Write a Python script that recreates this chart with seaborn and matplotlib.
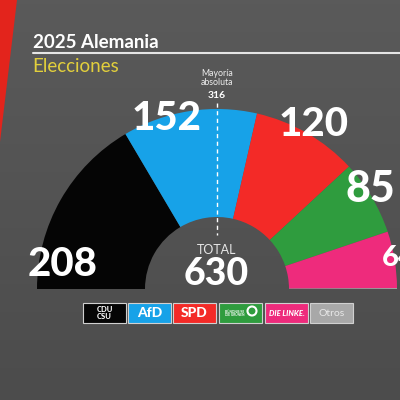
import matplotlib
matplotlib.use("Agg")
import matplotlib.pyplot as plt
import seaborn as sns
import numpy as np
from matplotlib.patches import Rectangle, Circle

# data
parties = ["CDU/CSU", "AfD", "SPD", "Grüne", "Die Linke", "Otros"]
seats = [208, 152, 120, 85, 64, 1]
colors = ["#050505", "#17a2e8", "#f32a27", "#2f9c3e", "#ee2b7c", "#a8a8a8"]
legend_labels = ["CDU\nCSU", "AfD", "SPD", "BÜNDNIS 90\nDIE GRÜNEN", "DIE LINKE.", "Otros"]
total = sum(seats)
majority = 316

sns.set_style("dark")
plt.rcParams['font.family'] = ['Lato', 'DejaVu Sans']

fig = plt.figure(figsize=(4, 4), dpi=100)
ax = fig.add_axes([0, 0, 1, 1])

# half donut, bottom half hidden
wedges, _ = ax.pie(seats + [total], radius=180, center=(217, 111), startangle=180,
                   counterclock=False, colors=colors + ["none"],
                   wedgeprops=dict(width=108, linewidth=0))
wedges[-1].set_visible(False)
for w in wedges:
    w.set_zorder(2)

ax.set_xlim(0, 400)
ax.set_ylim(0, 400)
ax.set_aspect('auto')
ax.axis('off')

# background
grad = np.linspace(0, 1, 100).reshape(-1, 1)
ax.imshow(grad, extent=(0, 400, 0, 400), cmap=sns.blend_palette(["#4c4c4c", "#5a5a5a"], as_cmap=True),
          aspect='auto', zorder=0, origin='lower')
ax.fill([0, 17, 0], [400, 400, 258], color="#e3241c", zorder=1, lw=0)

# header
ax.text(33, 358, "2025 Alemania", color="white", fontsize=13.5, fontweight="bold", va="center", ha="left", zorder=3)
ax.plot([33, 400], [347, 347], color="#e6e6e6", lw=1.5, zorder=3)
ax.text(32, 333, "Elecciones", color="#e2cf3c", fontsize=13.5, va="center", ha="left", zorder=3)

# seat labels
label_pos = [(63, 135), (167, 281), (314, 275), (370, 211), (382, 142)]
label_size = [29, 29, 29, 31, 21]
for val, (x, y), fs in zip(seats[:5], label_pos, label_size):
    ha = "left" if val == 64 else "center"
    ax.text(x, y, str(val), color="white", fontsize=fs, fontweight="black", ha=ha, va="center", zorder=4)

# majority marker
ax.plot([217, 217], [297, 165], color="white", lw=1, ls=(0, (3, 2.5)), zorder=3)
ax.text(217, 322, "Mayoría\nabsoluta", color="#eeeeee", fontsize=6.3, ha="center", va="center",
        linespacing=0.95, zorder=3)
ax.text(217, 304, str(majority), color="white", fontsize=7.5, fontweight="bold", ha="center", va="center", zorder=3)

# total
ax.text(217, 150, "TOTAL", color="#e6e6e6", fontsize=9, fontweight="normal", ha="center", va="center", zorder=3)
ax.text(216, 126, str(total), color="white", fontsize=27, fontweight="black", ha="center", va="center", zorder=3)

# legend boxes
box_x = [83, 128, 173, 219, 265, 310]
for i, (bx, lab, c) in enumerate(zip(box_x, legend_labels, colors)):
    ax.add_patch(Rectangle((bx, 77), 43, 20, facecolor=c, edgecolor="#d0d0d0", lw=0.8, zorder=3))
    if i == 0:
        ax.text(bx + 21.5, 87, lab, color="white", fontsize=5.5, fontweight="black", ha="center",
                va="center", linespacing=1.05, zorder=4)
    elif i == 3:
        ax.text(bx + 16, 86.5, lab, color="white", fontsize=2.3, fontweight="bold", ha="center",
                va="center", linespacing=0.9, zorder=4)
        ax.add_patch(Circle((bx + 33, 89), 4.5, facecolor="none", edgecolor="white", lw=1.5, zorder=4))
    elif i == 4:
        ax.text(bx + 21.5, 87, lab, color="white", fontsize=5.5, fontweight="black", style="italic",
                ha="center", va="center", zorder=4)
    elif i == 5:
        ax.text(bx + 21.5, 87, lab, color="#e8e8e8", fontsize=7.5, ha="center", va="center", zorder=4)
    else:
        ax.text(bx + 21.5, 87, lab, color="white", fontsize=10, fontweight="black", ha="center",
                va="center", zorder=4)

fig.savefig("out.png", dpi=100)
